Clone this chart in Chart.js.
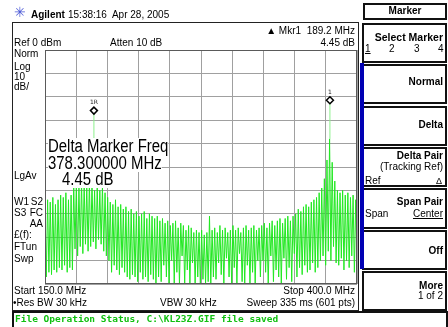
<!DOCTYPE html>
<html><head><meta charset="utf-8">
<script src="https://cdn.jsdelivr.net/npm/chart.js@4/dist/chart.umd.min.js"></script>
<style>
html,body{margin:0;padding:0;background:#fff;}
#wrap{position:relative;width:448px;height:327px;overflow:hidden;font-family:"Liberation Sans",Arial,sans-serif;color:#000;}
canvas{position:absolute;left:0;top:0;z-index:0;}
.t{position:absolute;font-size:10px;line-height:10px;white-space:pre;z-index:2;}
.b{font-weight:bold;}
.box{position:absolute;box-sizing:border-box;border:2px solid #111;z-index:1;background:transparent;}
.big{position:absolute;font-size:18px;line-height:17px;white-space:pre;background:#fff;transform:scaleX(0.83);transform-origin:0 0;z-index:2;}
.u{text-decoration:underline;}
</style></head>
<body>
<div id="wrap">
<canvas id="c" width="448" height="327"></canvas>

<!-- header -->
<div class="t" style="left:14px;top:5px;font-size:14px;line-height:14px;color:#4d5bd6;font-family:'DejaVu Sans';">✳</div>
<div class="t b" style="left:31px;top:10px;">Agilent</div>
<div class="t" style="left:68px;top:10px;">15:38:16  Apr 28, 2005</div>

<!-- main frame -->
<div class="box" style="left:12px;top:22px;width:347px;height:289px;border-width:1px;border-color:#222;"></div>

<div class="t" style="right:93px;top:26px;">▲ Mkr1  189.2 MHz</div>
<div class="t" style="right:93px;top:38px;">4.45 dB</div>
<div class="t" style="left:14px;top:38px;">Ref 0 dBm</div>
<div class="t" style="left:110px;top:38px;">Atten 10 dB</div>
<div class="t" style="left:14px;top:49px;">Norm</div>
<div class="t" style="left:14px;top:62px;">Log</div>
<div class="t" style="left:14px;top:72px;">10</div>
<div class="t" style="left:14px;top:82px;">dB/</div>
<div class="t" style="left:14px;top:171px;">LgAv</div>
<div class="t" style="left:14px;top:197px;">W1</div>
<div class="t" style="right:405px;top:197px;">S2</div>
<div class="t" style="left:14px;top:208px;">S3</div>
<div class="t" style="right:405px;top:208px;">FC</div>
<div class="t" style="right:405px;top:219px;">AA</div>
<div class="t" style="left:14px;top:230px;">£(f):</div>
<div class="t" style="left:14px;top:242px;">FTun</div>
<div class="t" style="left:14px;top:254px;">Swp</div>
<div class="t" style="left:14px;top:286px;">Start 150.0 MHz</div>
<div class="t" style="right:93px;top:286px;">Stop 400.0 MHz</div>
<div class="t" style="left:13px;top:298px;">•Res BW 30 kHz</div>
<div class="t" style="left:160px;top:298px;">VBW 30 kHz</div>
<div class="t" style="right:93px;top:298px;">Sweep 335 ms (601 pts)</div>

<!-- big delta marker readout -->
<div class="big" style="left:48px;top:138px;">Delta Marker Freq</div>
<div class="big" style="left:48px;top:155px;">378.300000 MHz</div>
<div class="big" style="left:62px;top:171px;">4.45 dB</div>

<!-- softkeys -->
<div class="box" style="left:363px;top:3px;width:84px;height:17px;"></div>
<div class="t b" style="left:363px;width:84px;text-align:center;top:6px;">Marker</div>
<div style="position:absolute;left:360px;top:63px;width:4px;height:206px;background:#0000b4;z-index:3;"></div>
<div class="box" style="left:362px;top:23px;width:85px;height:40px;"></div>
<div class="box" style="left:362px;top:64px;width:85px;height:40px;"></div>
<div class="box" style="left:362px;top:106px;width:85px;height:40px;"></div>
<div class="box" style="left:362px;top:147px;width:85px;height:40px;"></div>
<div class="box" style="left:362px;top:188px;width:85px;height:41px;"></div>
<div class="box" style="left:362px;top:230px;width:85px;height:40px;"></div>
<div class="box" style="left:362px;top:271px;width:85px;height:40px;"></div>

<div class="t b" style="right:5px;top:32px;font-size:10.5px;">Select Marker</div>
<div class="t u" style="left:365px;top:44px;">1</div>
<div class="t" style="left:389px;top:44px;">2</div>
<div class="t" style="left:414px;top:44px;">3</div>
<div class="t" style="left:438px;top:44px;">4</div>
<div class="t b" style="right:5px;top:77px;">Normal</div>
<div class="t b" style="right:5px;top:120px;">Delta</div>
<div class="t b" style="right:5px;top:151px;">Delta Pair</div>
<div class="t" style="right:5px;top:162px;">(Tracking Ref)</div>
<div class="t" style="left:365px;top:176px;">Ref</div>
<div class="t u" style="right:6px;top:176px;font-size:9px;">Δ</div>
<div class="t b" style="right:5px;top:197px;">Span Pair</div>
<div class="t" style="left:365px;top:209px;">Span</div>
<div class="t u" style="right:5px;top:209px;">Center</div>
<div class="t b" style="right:5px;top:246px;">Off</div>
<div class="t b" style="right:5px;top:281px;">More</div>
<div class="t" style="right:5px;top:291px;">1 of 2</div>

<!-- status bar -->
<div class="box" style="left:12px;top:311px;width:436px;height:22px;"></div>
<div class="t b" style="left:15px;top:314px;font-family:'DejaVu Sans Mono';font-size:9.5px;color:#10c010;">File Operation Status, C:\KL23Z.GIF file saved</div>
</div>

<script>
// ---- data ----
const startMHz = 150;
const stopMHz = 400;
const refLevel = 0;       // dBm, top of screen
const bottomLevel = -100; // 10 dB/div, 10 divisions
// upper and lower ends of each vertical trace excursion (dBm), left to right
const traceHigh = [
 -66,-64,-65,-63,-66,-64,-62,-63,-61,-64,-62,
 -58,-57,-59,-56,-57,-58,-56,-57,-60,-58,
 -60,-58,-61,-63,
 -65,-66,-64,-67,-66,-68,-67,
 -69,-68,-70,-69,-71,-70,-69,-72,-70,-71,-72,-71,
 -73,-72,-74,-73,-75,-74,-73,-76,-74,-75,-77,-75,-76,-78,-77,
 -78,-77,-79,-78,-71,-77,
 -76,-78,-75,-77,-76,-78,-77,-75,-77,-76,-78,-76,-75,-77,-76,-75,-77,
 -76,-75,-74,-76,-74,-73,-75,-73,-72,-74,-72,-71,-73,-71,-70,
 -68,-69,-67,-66,-67,-65,-64,-63,
 -61,-59,-55,-47,-38,-48,-56,
 -60,-61,-60,-62,-61,-63,-62,-64
];
const traceLow = [
 -97,-95,-96,-94,-95,-93,-94,-92,-95,-93,-94,
 -85,-88,-84,-87,-83,-86,-84,-82,-85,-81,
 -83,-86,-88,-90,
 -95,-92,-94,-96,-93,-95,-97,
 -98,-96,-97,-99,-95,-98,-97,-99,-96,-98,-100,-97,
 -99,-92,-97,-100,-90,-100,-95,-100,-88,-100,-94,-100,-91,-100,-97,
 -100,-98,-100,-99,-100,-97,
 -98,-91,-96,-100,-89,-97,-100,-93,-100,-87,-99,-100,-92,-100,-95,-100,-90,
 -97,-90,-95,-100,-88,-99,-94,-97,-100,-89,-98,-93,-99,-87,-97,
 -93,-96,-92,-95,-94,-91,-95,-93,
 -90,-88,-92,-86,-90,-84,-91,
 -92,-89,-94,-90,-93,-88,-95,-91
];
const markerNames = ['1R', '1'];
const markerFreqs = [189.2, 378.3];    // MHz
const markerLevels = [-25.9, -21.45];  // dBm
const spikeFoot = [-57, -38];          // where each marker spike meets the trace

// ---- build datasets ----
const nPts = traceHigh.length * 2;
const tracePts = [];
for (let i = 0; i < traceHigh.length; i++) {
  tracePts.push({x: startMHz + (stopMHz - startMHz) * (2 * i) / (nPts - 1), y: traceHigh[i]});
  tracePts.push({x: startMHz + (stopMHz - startMHz) * (2 * i + 1) / (nPts - 1), y: traceLow[i]});
}
const spikePts = [];
markerFreqs.forEach((f, k) => {
  if (k > 0) spikePts.push({x: (markerFreqs[k-1] + f) / 2, y: null});
  spikePts.push({x: f, y: spikeFoot[k]});
  spikePts.push({x: f, y: markerLevels[k]});
});
const markerPts = markerFreqs.map((f, k) => ({x: f, y: markerLevels[k]}));

const frameAndLabels = {
  id: 'frameAndLabels',
  afterDatasetsDraw(chart) {
    const {ctx, chartArea: a, scales: {x, y}} = chart;
    ctx.save();
    ctx.strokeStyle = '#5a5a5a';
    ctx.lineWidth = 1;
    ctx.strokeRect(Math.round(a.left) + 0.5, Math.round(a.top) + 0.5, Math.round(a.right - a.left) - 1, Math.round(a.bottom - a.top) - 1);
    ctx.fillStyle = '#222';
    ctx.font = '6px "DejaVu Sans"';
    ctx.textAlign = 'center';
    ctx.textBaseline = 'bottom';
    markerFreqs.forEach((f, k) => {
      ctx.fillText(markerNames[k], x.getPixelForValue(f), y.getPixelForValue(markerLevels[k]) - 5);
    });
    ctx.restore();
  }
};

new Chart(document.getElementById('c'), {
  type: 'line',
  data: {
    datasets: [
      {data: tracePts, borderColor: 'rgb(34,232,34)', borderWidth: 1, pointRadius: 0, tension: 0, order: 3},
      {data: spikePts, borderColor: 'rgb(140,240,140)', borderWidth: 1, pointRadius: 0, spanGaps: false, order: 2},
      {data: markerPts, showLine: false, pointStyle: 'rectRot', pointRadius: 3.5,
       pointBackgroundColor: '#fff', pointBorderColor: '#000', pointBorderWidth: 1.5, order: 1}
    ]
  },
  options: {
    responsive: false,
    animation: false,
    devicePixelRatio: 1,
    layout: {padding: {left: 45, top: 50, right: 91, bottom: 43}},
    plugins: {legend: {display: false}, tooltip: {enabled: false}},
    scales: {
      x: {type: 'linear', min: startMHz, max: stopMHz,
          ticks: {display: false, stepSize: 25},
          grid: {color: '#a0a0a0', lineWidth: 1, drawTicks: false},
          border: {display: false}},
      y: {type: 'linear', min: bottomLevel, max: refLevel,
          ticks: {display: false, stepSize: 10},
          grid: {color: '#a0a0a0', lineWidth: 1, drawTicks: false},
          border: {display: false}}
    }
  },
  plugins: [frameAndLabels]
});
</script>
</body></html>
